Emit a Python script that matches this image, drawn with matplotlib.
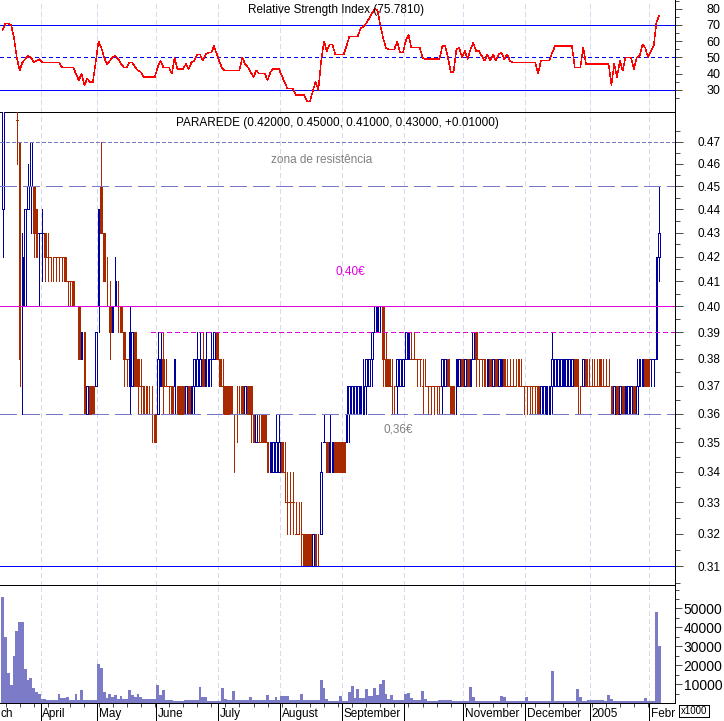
import numpy as np
import pandas as pd
import matplotlib
matplotlib.use('Agg')
import matplotlib.pyplot as plt
import matplotlib.transforms as mtrans
from matplotlib.ticker import FixedLocator, FixedFormatter, NullFormatter

# ---------------- data ----------------
dates = pd.bdate_range('2004-03-12', '2005-02-04')
dates = dates.drop(pd.to_datetime(['2004-04-09', '2004-04-12']))

open_c = [44,49,51,51,50,48,47,40,40,44, 45,45,44,43,43,43,42,42,42,42,
          42,42,42,41,41,41,40,40,38,39, 36,37,37,37,40,45,43,40,40,39,
          40,40,40,39,38,37,37,39,38,37, 37,37,36,36,36,36,37,38,37,37,
          37,37,37,37,37, 36,37,36,37,37,37,
          38,37,37,38,38,39,38,37,37,37, 37,36,36,36,37,36,37,37,36,35,
          35,36,36,35,34,34,34,34,35,34, 33,33,33,32,32,32,32,32,32,31,
          32,31,32,35,35,34,34,35,35,35, 35,35,36,36,36,36,36,36,37,37,
          38,39,39,40,40,38,38,37,37,37, 37,37,38,38,38,38,38,38,37,37,
          37,37,
          37,37,37,37,37,38,37,37,37,37, 38,37,38,37,38,39,38,38,38,37,
          38,37,38,37,37,38,37,37,37,37, 38,37,37,37,37,37,37,37,36,36,
          36,36,37,37,37,37,37,37,37,37, 38,38,37,37,38,37,37,37,37,38,
          37,37,37,37,36,37,36,37,36,36, 36,37,36,37,37,38,38,38,38,38,42]
high_c = [50,52,52,52,50,49,47,43,44,46, 47,45,44,43,44,43,43,42,42,42,
          42,42,42,41,41,41,40,40,39,39, 37,37,37,39,44,47,43,42,41,40,
          42,41,40,39,38,40,39,39,38,38, 37,37,37,37,36,39,39,39,38,37,
          37,38,37,37,37, 37,37,37,38,39,39,
          39,39,38,39,39,39,38,38,37,37, 37,36,37,37,37,37,37,37,36,36,
          36,36,36,35,35,35,36,36,35,35, 34,34,34,33,33,33,32,32,32,32,
          32,32,35,36,35,36,35,35,35,35, 35,37,37,37,37,37,37,38,38,38,
          39,40,40,40,40,39,38,38,37,38, 38,38,39,39,39,39,38,38,38,38,
          37,37,
          37,37,37,38,38,38,37,37,38,38, 38,38,38,38,39,39,38,38,38,38,
          38,38,38,38,38,38,38,38,38,38, 38,38,37,37,37,37,37,37,37,37,
          37,37,39,38,38,38,38,38,38,38, 38,38,37,38,38,38,38,38,38,38,
          38,38,38,37,37,37,37,37,37,37, 37,37,38,38,38,38,38,38,38,42,45]
low_c = [42,49,50,50,49,46,37,36,40,44, 43,42,42,40,41,41,41,41,41,41,
         41,41,41,40,40,40,40,38,38,36, 36,36,36,37,39,43,41,40,38,39,
         40,39,39,37,37,36,37,37,36,36, 36,36,36,35,35,36,37,36,37,36,
         36,36,36,36,36, 36,36,36,36,37,37,
         37,37,37,37,38,38,37,36,36,36, 36,34,35,36,36,36,36,35,35,35,
         35,35,35,34,34,34,34,34,34,33, 32,32,32,32,32,31,31,31,31,31,
         31,31,32,35,34,34,34,34,34,34, 34,35,35,36,36,36,36,36,36,37,
         37,39,39,39,37,37,37,36,36,36, 37,37,38,38,38,38,37,37,36,37,
         36,36,
         36,36,36,36,37,37,36,36,36,37, 37,37,37,37,38,37,37,37,37,37,
         37,37,37,37,37,37,37,37,37,37, 37,37,36,36,36,36,36,36,36,36,
         36,36,36,37,37,37,37,37,37,37, 37,36,36,37,37,37,37,37,37,37,
         37,37,37,36,36,36,36,36,36,36, 36,36,36,37,37,37,37,37,37,38,41]
close_c = [49,51,51,50,49,48,38,42,44,45, 47,43,42,43,43,42,42,42,42,42,
           42,42,41,41,41,40,40,38,39,36, 37,36,36,39,44,43,41,40,39,40,
           41,40,39,38,38,39,39,37,37,37, 36,36,36,36,35,38,38,37,37,37,
           36,38,36,36,36, 37,36,37,38,38,38,
           37,38,38,38,39,38,37,37,36,36, 36,36,36,36,36,37,36,36,35,36,
           35,35,35,34,35,35,35,35,34,34, 33,33,33,32,32,32,31,31,31,32,
           31,31,34,35,34,35,35,34,34,34, 34,36,37,37,37,37,37,37,38,38,
           39,40,40,40,38,37,37,37,37,38, 38,38,39,39,38,38,38,38,37,37,
           37,37,
           37,37,37,38,38,37,36,36,38,38, 37,38,37,38,39,38,38,38,37,38,
           37,38,37,38,38,37,37,37,37,37, 37,37,37,37,37,37,37,36,37,37,
           37,37,38,38,38,38,38,38,38,38, 37,37,37,38,37,37,37,37,37,37,
           37,37,37,36,37,36,37,36,37,37, 37,36,37,38,38,37,37,38,38,42,43]

volume = [56000,35000,16000,9500,25000,38000,43000,43000,18000,12000,
          13000,8000,6000,5000,2000,2000,1500,1500,1500,1500,
          5000,2500,2500,3000,1500,1500,5000,1500,7000,1500,
          1500,1500,1500,1500,20500,18500,6000,2500,4500,3000,
          4000,2000,3500,2000,2000,7000,4000,3000,5000,3000,
          2000,2000,2000,2000,2000,9500,4000,7000,1500,1500,
          1500,1000,1000,1000,1000,
          1500,1500,1500,1500,1500,8500,
          3000,3000,1000,1000,1000,1000,1000,8000,2000,1500,
          1500,6500,1500,1500,1500,1500,1500,3000,1500,1500,
          1500,1500,1500,4000,1500,1500,3000,1500,3500,3500,
          3500,1500,1500,1500,1500,4500,1500,1500,1500,1500,
          1500,1500,12000,8000,2000,1000,1000,1000,1000,3500,
          1000,1000,6000,9000,2500,7500,2500,2500,7500,3500,
          3500,8000,4000,10000,12000,5000,2000,4000,1500,1500,
          1500,1500,4500,5500,2500,1500,1500,1500,6500,2000,
          1000,1000,
          1000,1000,1500,1500,1500,1500,1500,800,800,800,
          800,800,800,8500,3000,1000,1000,1000,1000,1000,
          1000,1000,1000,1000,3500,3000,1000,1000,1000,1000,
          1000,1000,1000,3000,800,800,800,800,800,800,
          800,800,17000,1000,1000,1000,1000,1000,1000,1000,
          1000,7500,3000,1000,1000,1500,1500,1500,1500,1500,
          1500,1000,4000,2000,1000,1000,1000,1000,1000,1000,
          1000,1000,1000,1000,1000,2500,1000,1000,1000,48000,30000]

rsi = [67,71,71,70,62,50,42,47,49,51, 50,47,48,49,47,47,47,47,47,47,
       47,44,44,44,44,44,40,36,40,33, 37,35,35,47,60,56,50,46,48,50,
       51,49,46,44,44,47,47,44,42,41, 38,38,38,38,38,44,48,44,44,44,
       40,50,43,43,43, 46,43,47,48,52,52,
       48,52,53,53,57,52,47,43,42,42, 42,42,42,42,50,46,44,41,38,42,
       40,40,40,36,41,43,43,43,39,35, 31,31,31,27,27,27,27,23,23,29,
       35,30,48,60,54,58,58,52,52,52, 52,57,63,63,63,63,68,69,71,74,
       77,80,79,70,62,56,55,55,55,60, 53,53,60,64,56,56,56,56,50,49,
       49,49,
       49,49,49,57,57,50,41,41,55,56, 50,54,49,55,59,54,54,51,48,52,
       48,52,48,52,53,49,52,48,47,47, 47,47,47,47,47,47,47,40,48,48,
       48,48,53,57,57,57,57,57,57,57, 44,44,44,56,46,46,46,46,46,46,
       46,46,46,33,46,38,48,42,50,50, 50,43,50,51,58,56,50,54,57,72,75.781]

# the first month label is only partly visible at the left edge of the reference
month_labels = ['ch', 'April', 'May', 'June', 'July', 'August', 'September',
                '', 'November', 'December', '2005', 'Febr']
price_ticks = [0.31, 0.32, 0.33, 0.34, 0.35, 0.36, 0.37, 0.38, 0.39,
               0.40, 0.41, 0.42, 0.43, 0.44, 0.45, 0.46, 0.47]
rsi_ticks = [30, 40, 50, 60, 70, 80]
vol_ticks = [10000, 20000, 30000, 40000, 50000]

# ---------------- figure ----------------
W, H = 724, 721
plt.rcParams['font.family'] = ['Liberation Sans', 'DejaVu Sans']
plt.rcParams['lines.scale_dashes'] = False
plt.rcParams['lines.antialiased'] = False
plt.rcParams['patch.antialiased'] = False

PX = 0.5    # renders as a one pixel line without antialiasing
BLUE = '#00009c'
BROWN = '#a82800'
LAV = '#7878c8'
MAG = '#e000e0'
GRID = '#d8d8f0'

fig = plt.figure(figsize=(W / 100, H / 100), dpi=100)
fig.patch.set_facecolor('white')


def rect(x0, yt, x1, yb):
    return [x0 / W, 1 - yb / H, (x1 - x0) / W, (yb - yt) / H]


ax_r = fig.add_axes(rect(0, 0, 675, 112))
ax_p = fig.add_axes(rect(0, 112, 675, 585))
ax_v = fig.add_axes(rect(0, 585, 675, 703))

n = len(close_c)
x = np.arange(n)
O = np.array(open_c) / 100.0
Hh = np.array(high_c) / 100.0
L = np.array(low_c) / 100.0
C = np.array(close_c) / 100.0
V = np.array(volume, dtype=float)
R = np.array(rsi, dtype=float)

xlim = (-0.958, 238.57)
for ax in (ax_r, ax_p, ax_v):
    ax.set_xlim(*xlim)
    ax.set_facecolor('white')
    ax.spines['left'].set_visible(False)
    for s in ('top', 'bottom', 'right'):
        ax.spines[s].set_linewidth(0.72)
        ax.spines[s].set_color('black')
ax_r.spines['top'].set_visible(False)

# month boundaries
bounds = [i - 0.5 for i in range(1, n) if dates[i].month != dates[i - 1].month]
all_bounds = [None] + bounds

for ax in (ax_r, ax_p, ax_v):
    for b in bounds:
        ax.axvline(b, color=GRID, lw=PX, ls=(0, (3.0, 2.2)), zorder=0)
    ax.tick_params(axis='x', which='both', bottom=False, top=False,
                   labelbottom=False)

# ---------------- RSI panel ----------------
ax_r.set_ylim(16.46, 85.38)
ax_r.axhline(70, color='#0000ff', lw=PX, zorder=2)
ax_r.axhline(30, color='#0000ff', lw=PX, zorder=2)
ax_r.axhline(50, color='#0000ff', lw=PX, ls=(0, (2.2, 2.2)), zorder=2)
ax_r.plot(x, R, color='#ff0000', lw=0.35, zorder=3)
ax_r.yaxis.tick_right()
ax_r.yaxis.set_major_locator(FixedLocator(rsi_ticks))
ax_r.yaxis.set_major_formatter(FixedFormatter([str(t) for t in rsi_ticks]))
ax_r.yaxis.set_minor_locator(FixedLocator([25, 35, 45, 55, 65, 75, 85]))
ax_r.tick_params(axis='y', which='major', length=5, width=PX, labelsize=9,
                 pad=28)
ax_r.tick_params(axis='y', which='minor', length=3, width=PX)
for lab in ax_r.get_yticklabels():
    lab.set_horizontalalignment('right')

# ---------------- price panel ----------------
ax_p.set_yscale('log')
ax_p.set_ylim(0.3043, 0.4840)

up = np.zeros(n, dtype=bool)
state = C[0] >= O[0]
for i in range(n):
    if i > 0:
        if C[i] > C[i - 1]:
            state = True
        elif C[i] < C[i - 1]:
            state = False
    up[i] = state
cols = [BLUE if u else BROWN for u in up]
faces = [cols[i] if C[i] < O[i] else 'white' for i in range(n)]

ax_p.vlines(x, L, Hh, colors=cols, lw=PX, zorder=3)
ax_p.bar(x, np.abs(C - O), bottom=np.minimum(O, C), width=0.6,
         color=faces, edgecolor=cols, linewidth=PX, zorder=4)

ax_p.axhline(0.47, color=LAV, lw=PX, ls=(0, (2.2, 1.6)), zorder=5)
ax_p.axhline(0.45, color=LAV, lw=0.8, ls=(0, (12.2, 5.0)), zorder=5)
ax_p.axhline(0.40, color=MAG, lw=PX, zorder=5)
ax_p.axhline(0.39, xmin=151 / 675, color=MAG, lw=PX, ls=(0, (2.9, 2.2)),
             zorder=5)
ax_p.axhline(0.36, color=LAV, lw=0.8, ls=(0, (12.2, 5.0)), zorder=5)
ax_p.axhline(0.31, color='#0000ff', lw=PX, zorder=5)

ax_p.yaxis.tick_right()
ax_p.yaxis.set_major_locator(FixedLocator(price_ticks))
ax_p.yaxis.set_major_formatter(FixedFormatter(['%.2f' % t for t in price_ticks]))
minor_p = [round(0.305 + 0.01 * k, 3) for k in range(19)]
ax_p.yaxis.set_minor_locator(FixedLocator(minor_p))
ax_p.yaxis.set_minor_formatter(NullFormatter())
ax_p.tick_params(axis='y', which='major', length=6, width=PX, labelsize=8.5,
                 pad=27)
ax_p.tick_params(axis='y', which='minor', length=3.5, width=PX)
for lab in ax_p.get_yticklabels():
    lab.set_horizontalalignment('right')

# ---------------- volume panel ----------------
ax_v.set_ylim(0, 62400)
ax_v.bar(x, V, width=1.0, color='#7b7bc8', linewidth=0, zorder=3)
ax_v.yaxis.tick_right()
ax_v.yaxis.set_major_locator(FixedLocator(vol_ticks))
ax_v.yaxis.set_major_formatter(FixedFormatter([str(t) for t in vol_ticks]))
ax_v.yaxis.set_minor_locator(FixedLocator([5000, 15000, 25000, 35000, 45000, 55000, 60000]))
ax_v.yaxis.set_minor_formatter(NullFormatter())
ax_v.tick_params(axis='y', which='major', length=5, width=PX, labelsize=10,
                 pad=29)
ax_v.tick_params(axis='y', which='minor', length=3, width=PX)
for lab in ax_v.get_yticklabels():
    lab.set_horizontalalignment('right')

mondays = [i for i in range(n) if dates[i].weekday() == 0]
ax_v.xaxis.set_minor_locator(FixedLocator(mondays))
ax_v.tick_params(axis='x', which='minor', bottom=True, length=3, width=PX,
                 direction='out')

trans = mtrans.blended_transform_factory(ax_v.transData, ax_v.transAxes)
for b, lab in zip(all_bounds, month_labels):
    if b is None:
        ax_v.text(-0.95, -0.093, lab, transform=trans, ha='left',
                  va='center', fontsize=8.5, clip_on=False)
        continue
    ax_v.plot([b, b], [0, -0.16], transform=trans, color='black', lw=PX,
              clip_on=False, zorder=6)
    if lab:
        ax_v.text(b + 0.55, -0.093, lab, transform=trans, ha='left',
                  va='center', fontsize=8.5, clip_on=False)

# ---------------- texts ----------------
rsi_title = 'Relative Strength Index (%.4f)' % R[-1]
price_title = 'PARAREDE (%.5f, %.5f, %.5f, %.5f, %+.5f)' % (
    O[-1], Hh[-1], L[-1], C[-1], C[-1] - C[-2])
fig.text(336 / W, 1 - 10 / H, rsi_title, ha='center', va='center', fontsize=8.5)
fig.text(337 / W, 1 - 123 / H, price_title, ha='center', va='center', fontsize=8.5)
fig.text(322 / W, 1 - 160 / H, 'zona de resistência', ha='center', va='center',
         fontsize=8.5, color='#808080')
fig.text(350 / W, 1 - 271 / H, '0,40€', ha='center', va='center',
         fontsize=8.5, color=MAG)
fig.text(398 / W, 1 - 430 / H, '0,36€', ha='center', va='center',
         fontsize=8.5, color='#808080')
fig.text(694 / W, 1 - 711 / H, 'x1000', ha='center', va='center', fontsize=7,
         bbox=dict(boxstyle='square,pad=0.15', fc='white', ec='black', lw=PX))

fig.savefig('out.png', dpi=100, facecolor='white')
